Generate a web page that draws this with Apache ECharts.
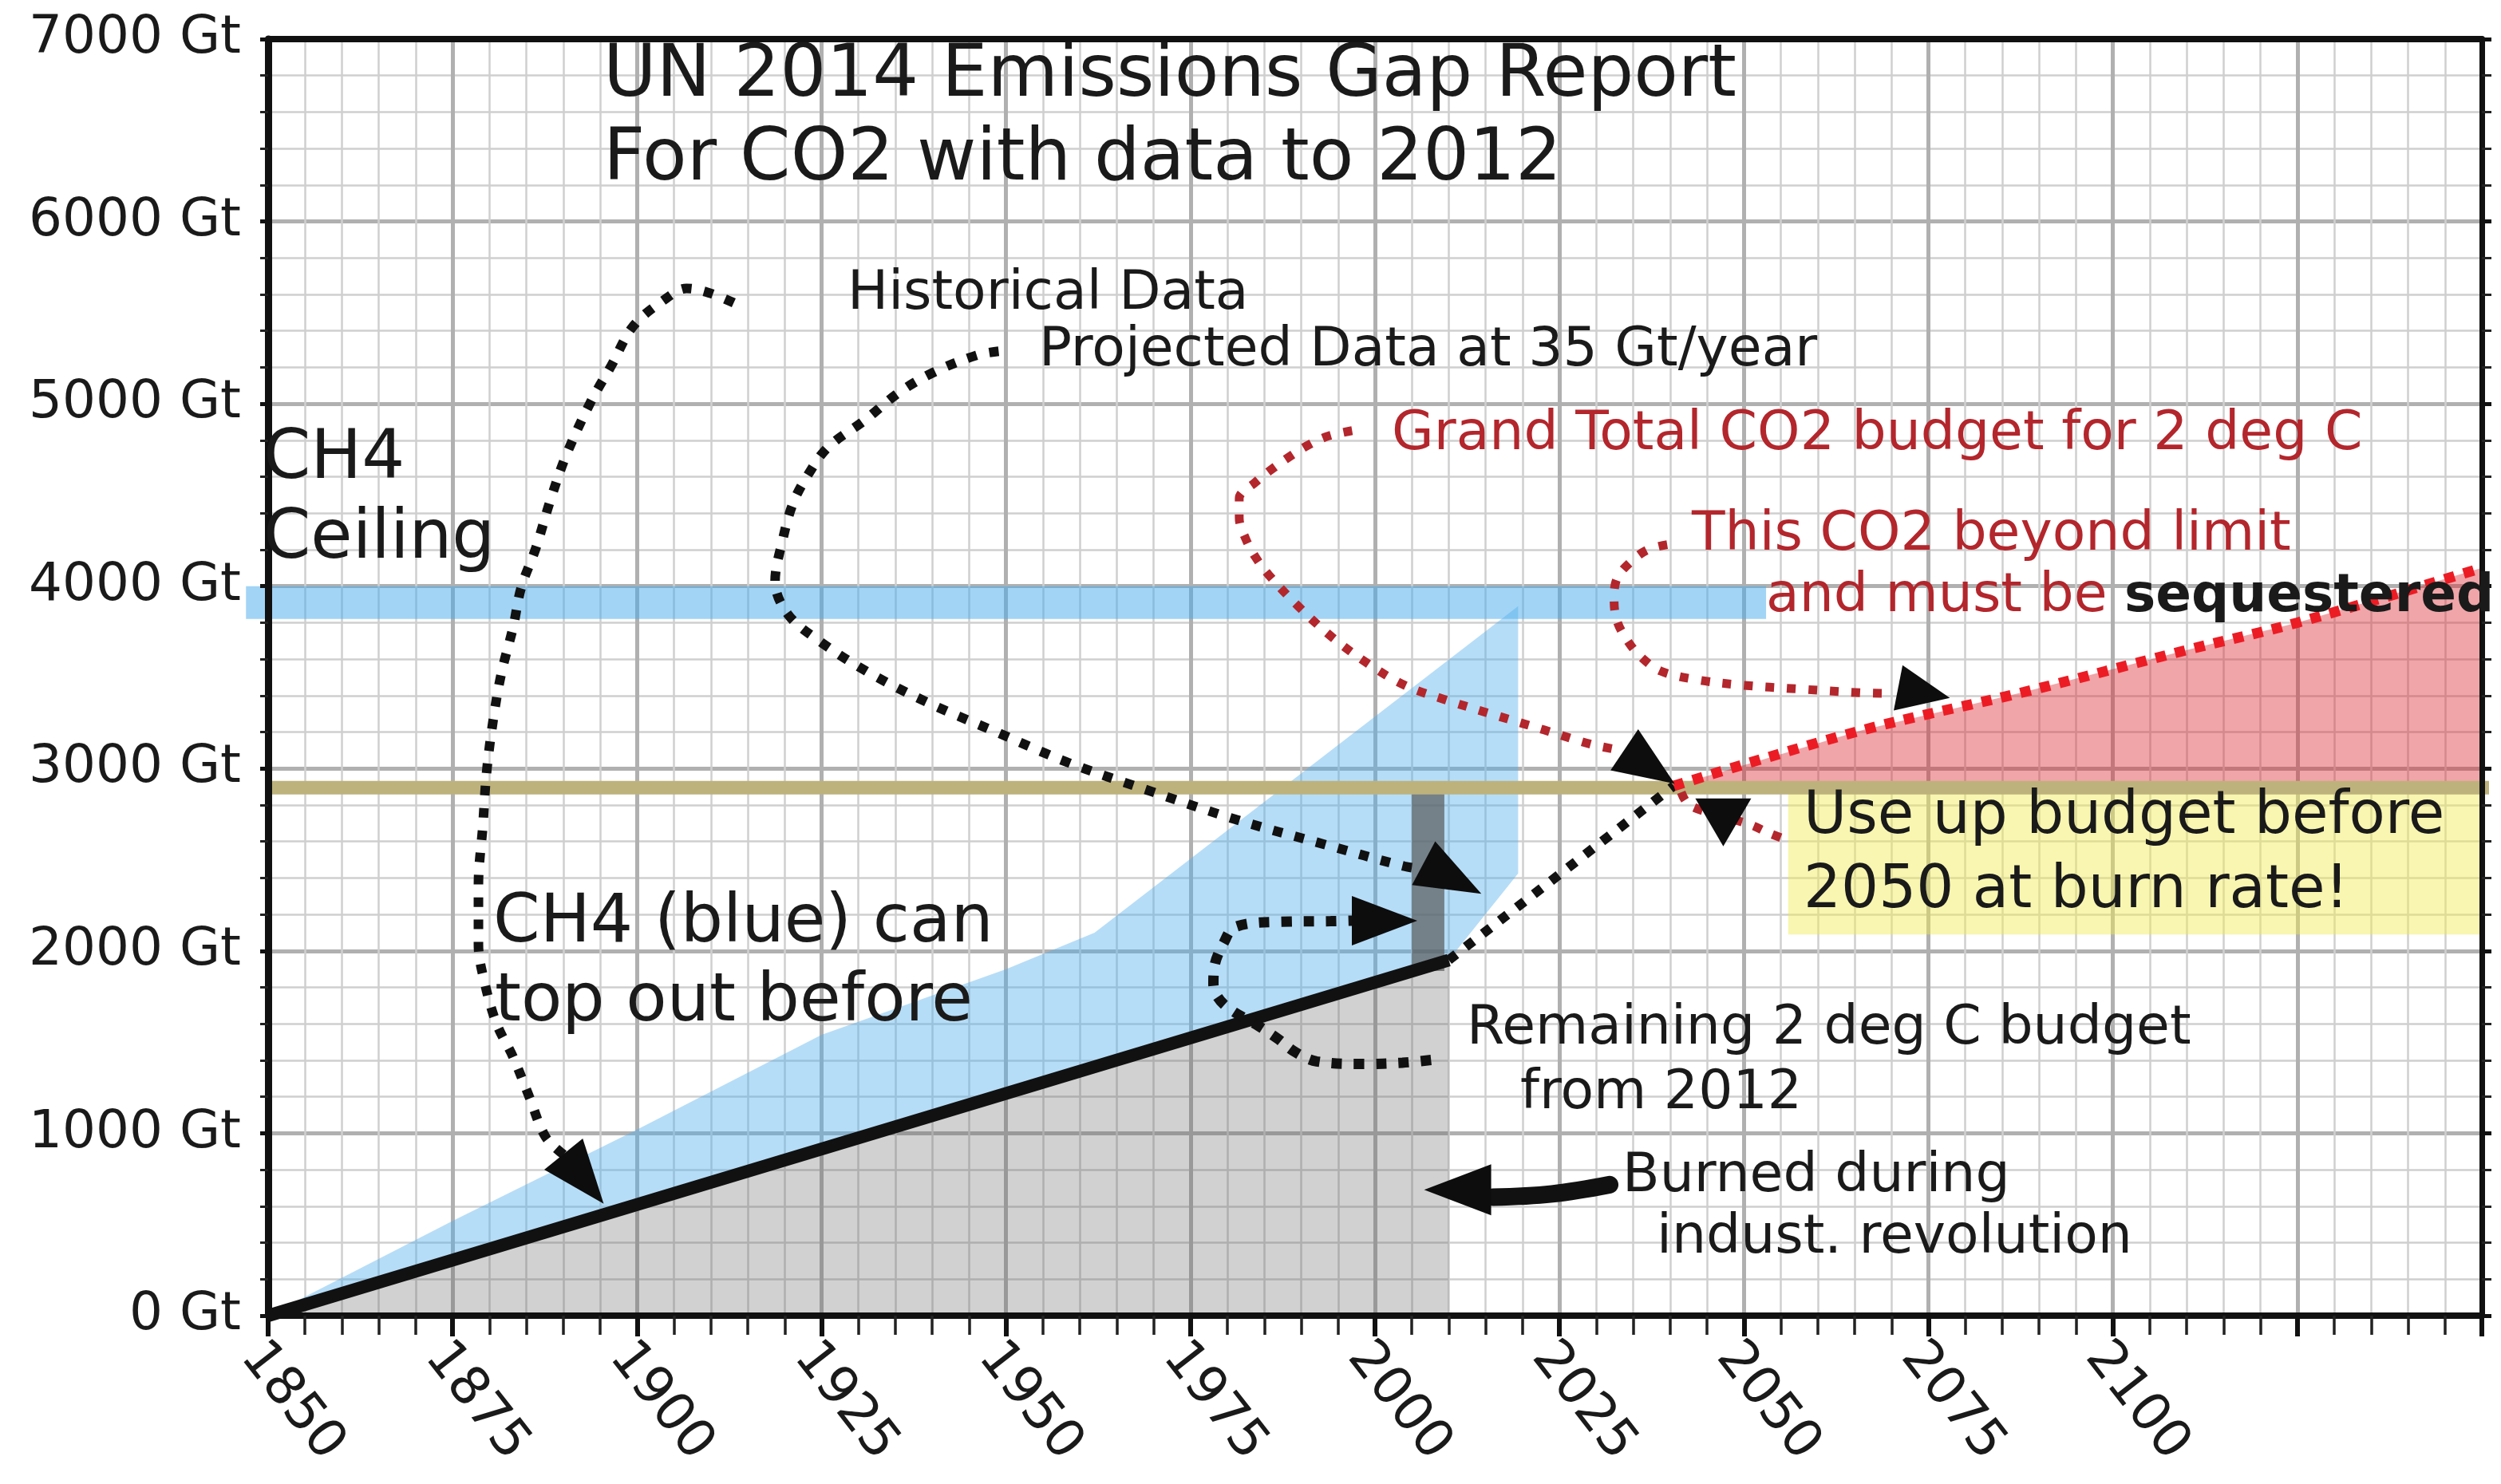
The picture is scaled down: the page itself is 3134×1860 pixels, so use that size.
<!DOCTYPE html>
<html><head><meta charset="utf-8">
<script src="https://cdn.jsdelivr.net/npm/echarts@6/dist/echarts.min.js"></script>
<style>html,body{margin:0;padding:0;background:#fff}#c{width:3134px;height:1860px}</style>
</head><body><div id="c"></div>
<script>
// ---------------- DATA ----------------
const xLabelYears = [1850,1875,1900,1925,1950,1975,2000,2025,2050,2075,2100];
const yTickValues = [0,1000,2000,3000,4000,5000,6000,7000];

// cumulative CO2 burned (historical), Gt
const burnedHistory = [[1850,0],[2010,1950]];
// projected at 35 Gt/year until budget reached
const projectedBurn = [[2010,1950],[2040.5,2905]];
// total 2 deg C budget line
const budgetLine = [[1850,2895],[2151.5,2895]];
// CO2 beyond limit (must be sequestered)
const beyondLimitTop = [[2040.5,2905],[2066,3210],[2088,3420],[2110,3650],[2125,3800],[2150,4100]];
const beyondLimitBase = [[2150,2900],[2040.5,2900]];
// CH4 ceiling band [x0,y0],[x1,y1]
const ch4Ceiling = [[1847,3820],[2053,4000]];
// CH4 (blue) area outline
const ch4Area = [[1850,0],[1875,520],[1900,1020],[1925,1540],[1950,1900],[1962,2100],[2019.4,3890],[2019.4,2425],[2010,1950]];
// remaining budget bar from 2012
const remainingBar = [[2005,1890],[2009.4,2920]];
// "use up budget" highlight box
const useUpBox = [[2056,2090],[2150,2870]];

// annotation pointer paths
const histPointer = [[1913.1,5554],[1909.8,5608],[1906.7,5633],[1903.7,5571],[1899.5,5427],[1896.5,5209],[1893.7,5009],[1890.4,4719],[1888.2,4465],[1886.3,4211],[1884.3,3993],[1883.2,3775],[1881.6,3521],[1880.5,3267],[1879.6,2977],[1879.1,2687],[1878.5,2360],[1878.5,2035],[1879.4,1816],[1881,1597],[1883.2,1418],[1885.4,1199],[1887.6,980],[1890.1,881]];
const projPointer = [[1949,5288],[1946,5266],[1940.4,5177],[1935.6,5065],[1930.8,4908],[1925.9,4763],[1923.1,4607],[1921.1,4451],[1919.7,4249],[1918.7,4026],[1920.4,3848],[1924.6,3702],[1931.5,3524],[1939.7,3356],[1948.7,3200],[1958.4,3033],[1969.5,2877],[1981.2,2720],[1993,2586],[2004,2464],[2006.6,2450]];
const remainPointer = [[2007.6,1402],[2003.7,1387],[1998.4,1380],[1992.1,1394],[1989.2,1445],[1986.8,1519],[1984.4,1584],[1979.5,1708],[1978.1,1818],[1978.3,1927],[1979.5,2044],[1981,2131],[1987.3,2160],[1994,2163],[1996.9,2166]];
const grandPointer = [[1996.9,4853],[1993.7,4824],[1991,4775],[1988.3,4707],[1985.6,4629],[1983.8,4570],[1981.6,4482],[1981.6,4375],[1982.5,4258],[1983.8,4160],[1985.6,4062],[1989.7,3886],[1994.2,3720],[1999.1,3574],[2004,3457],[2009.4,3379],[2015.7,3300],[2022.9,3212],[2029.2,3134],[2033.2,3101]];
const useUpPointer = [[2041.5,2870],[2042.6,2800],[2047,2740],[2051,2690],[2053.3,2648],[2056,2605]];
const beyondPointer = [[2039.6,4228],[2036.9,4199],[2034.6,4131],[2032.8,4043],[2032.4,3926],[2032.8,3809],[2034.2,3702],[2036,3614],[2038.7,3535],[2043.6,3487],[2049.9,3457],[2057.1,3437],[2066.1,3415],[2069,3412]];
const burnedPointer = [[2031.8,718],[2024,668],[2016,650]];
// arrowhead positions (centres)
const arrowHeads = [[1892.75,750],[2010.5,2397],[2001.3,2166],[2037.2,3010],[2047.2,2705],[2074.4,3415],[2011.2,690]];

// ---------------- STYLE / BUILD ----------------
const FONT = '"DejaVu Sans", "Noto Sans", sans-serif';
const TXT = '#1a1a1a';
const DARKRED = '#b3262c';
const arrowRot = [-141,-118,-90,-124,-180,-101,90];
const arrowSize = [[62,80],[62,82],[62,82],[62,76],[70,60],[58,66],[64,84]];

function poly(name, verts, fill, clip){
  return {type:'custom', name, clip: !!clip, data: verts, encode:{x:0,y:1}, silent:true,
    renderItem:(params, api)=>{
      if(params.dataIndex!==0) return null;
      return {type:'polygon', shape:{points: verts.map(v=>api.coord(v))}, style:{fill}};
    }};
}
function rectVerts(r){ return [[r[0][0],r[0][1]],[r[1][0],r[0][1]],[r[1][0],r[1][1]],[r[0][0],r[1][1]]]; }
function pointer(name, pts, color, w, dash){
  return {type:'line', name, data:pts, smooth:0.35, showSymbol:false, symbol:'none', clip:false, silent:true,
    lineStyle:{color, width:w, type:dash, cap:'butt'}};
}
function txt(s, x, base, fs, color, weight){
  return {type:'text', z:50, x:x, y: base - 0.35*fs,
    style:{text:s, fill:color||TXT, fontSize:fs, fontFamily:FONT, fontWeight:weight||'normal', align:'left', verticalAlign:'middle'}};
}

const XMIN=1850, XMAX=2150, YMIN=0, YMAX=7000;
const option = {
  animation:false,
  backgroundColor:'#fff',
  title:{text:'UN 2014 Emissions Gap Report\nFor CO2 with data to 2012', left:756, top:44, padding:0,
    textStyle:{fontSize:91, lineHeight:105, fontWeight:'normal', fontFamily:FONT, color:TXT}},
  grid:{left:336, right:24, top:49, bottom:211, containLabel:false},
  xAxis:[
    {type:'value', min:XMIN, max:XMAX, interval:25, axisLine:{show:false}, axisTick:{show:false}, axisLabel:{show:false},
      splitLine:{show:true, lineStyle:{color:'#b0b0b0', width:5}},
      minorTick:{show:false, splitNumber:5}, minorSplitLine:{show:true, lineStyle:{color:'#cfcfcf', width:2.5}}},
    {type:'value', min:XMIN, max:XMAX, interval:25, position:'bottom', z:10,
      axisLine:{show:true, onZero:false, lineStyle:{color:'#111', width:8}},
      axisTick:{show:true, length:26, lineStyle:{color:'#111', width:6}},
      minorTick:{show:true, splitNumber:5, length:24, lineStyle:{color:'#222', width:3.5}},
      splitLine:{show:false},
      axisLabel:{show:true, rotate:-52, margin:24, verticalAlign:'top', padding:[-5,0,0,0], fontSize:66, fontFamily:FONT, color:TXT,
        formatter:v=> xLabelYears.indexOf(v)>=0 ? String(v) : ''}},
    {type:'value', min:XMIN, max:XMAX, interval:25, position:'top', z:10,
      axisLine:{show:true, onZero:false, lineStyle:{color:'#111', width:8}},
      axisTick:{show:false}, axisLabel:{show:false}, splitLine:{show:false}}
  ],
  yAxis:[
    {type:'value', min:YMIN, max:YMAX, interval:1000, axisLine:{show:false}, axisTick:{show:false}, axisLabel:{show:false},
      splitLine:{show:true, lineStyle:{color:'#b0b0b0', width:5}},
      minorTick:{show:false, splitNumber:5}, minorSplitLine:{show:true, lineStyle:{color:'#cfcfcf', width:2.5}}},
    {type:'value', min:YMIN, max:YMAX, interval:1000, position:'left', z:10,
      axisLine:{show:true, onZero:false, lineStyle:{color:'#111', width:9}},
      axisTick:{show:true, length:10, lineStyle:{color:'#111', width:5}},
      minorTick:{show:true, splitNumber:5, length:10, lineStyle:{color:'#222', width:3}},
      splitLine:{show:false},
      axisLabel:{show:true, margin:34, fontSize:66, fontFamily:FONT, color:TXT,
        formatter:v=> yTickValues.indexOf(v)>=0 ? v+' Gt' : ''}},
    {type:'value', min:YMIN, max:YMAX, interval:1000, position:'right', z:10,
      axisLine:{show:true, onZero:false, lineStyle:{color:'#111', width:7}},
      axisTick:{show:true, length:12, lineStyle:{color:'#111', width:5}},
      minorTick:{show:true, splitNumber:5, length:12, lineStyle:{color:'#222', width:3}},
      splitLine:{show:false}, axisLabel:{show:false}}
  ],
  series:[
    poly('CH4 ceiling', rectVerts(ch4Ceiling), 'rgba(70,170,235,0.5)', false),
    poly('CH4 (blue)', ch4Area, 'rgba(80,175,235,0.42)', true),
    {type:'line', name:'Burned area', data:burnedHistory, showSymbol:false, symbol:'none', silent:true,
      lineStyle:{width:0}, areaStyle:{color:'rgba(100,100,100,0.42)', origin:'start'}},
    poly('Remaining budget', rectVerts(remainingBar), 'rgba(90,90,90,0.7)', true),
    poly('Use up box', rectVerts(useUpBox), 'rgba(240,235,80,0.45)', true),
    poly('Beyond limit', beyondLimitTop.concat(beyondLimitBase), 'rgba(220,40,50,0.42)', true),
    {type:'line', name:'Budget 2 deg C', data:budgetLine, showSymbol:false, symbol:'none', clip:false, silent:true,
      lineStyle:{color:'#beb27c', width:17}},
    {type:'line', name:'Historical', data:burnedHistory, showSymbol:false, symbol:'none', silent:true,
      lineStyle:{color:'#111', width:16, cap:'butt'}},
    pointer('Projected', projectedBurn, '#111', 12, [12,15]),
    pointer('Beyond line', beyondLimitTop, '#ec1c24', 13, [13,12]),
    pointer('p-hist', histPointer, '#111', 12, [12,16]),
    pointer('p-proj', projPointer, '#111', 12, [12,16]),
    pointer('p-remain', remainPointer, '#111', 13, [13,15]),
    pointer('p-grand', grandPointer, DARKRED, 11, [11,16]),
    pointer('p-useup', useUpPointer, DARKRED, 11, [11,15]),
    pointer('p-beyond', beyondPointer, DARKRED, 11, [11,16]),
    {type:'line', name:'p-burned', data:burnedPointer, smooth:0.4, showSymbol:false, symbol:'none', clip:false, silent:true,
      lineStyle:{color:'#111', width:22, cap:'round'}},
    {type:'scatter', name:'arrowheads', silent:true, z:6,
      data: arrowHeads.map((p,i)=>({value:p, symbolRotate:arrowRot[i], symbolSize:arrowSize[i]})),
      symbol:'triangle', itemStyle:{color:'#0d0d0d', opacity:1}}
  ],
  graphic:[
    txt('CH4', 330, 607, 85),
    txt('Ceiling', 330, 707, 85),
    txt('Historical Data', 1062, 393, 68),
    txt('Projected Data at 35 Gt/year', 1302, 464, 68),
    txt('Grand Total CO2 budget for 2 deg C', 1744, 569, 68, DARKRED),
    txt('This CO2 beyond limit', 2120, 695, 68, DARKRED),
    txt('and must be', 2213, 772, 68, DARKRED),
    txt('sequestered', 2662, 772, 66, TXT, 'bold'),
    txt('Use up budget before', 2260, 1051, 74),
    txt('2050 at burn rate!', 2260, 1144, 74),
    txt('Remaining 2 deg C budget', 1838, 1314, 68),
    txt('from 2012', 1905, 1395, 68),
    txt('Burned during', 2033, 1499, 68),
    txt('indust. revolution', 2076, 1576, 68),
    txt('CH4 (blue) can', 618, 1188, 84),
    txt('top out before', 620, 1287, 84)
  ]
};
const chart = echarts.init(document.getElementById('c'));
chart.setOption(option);
</script>
</body></html>
